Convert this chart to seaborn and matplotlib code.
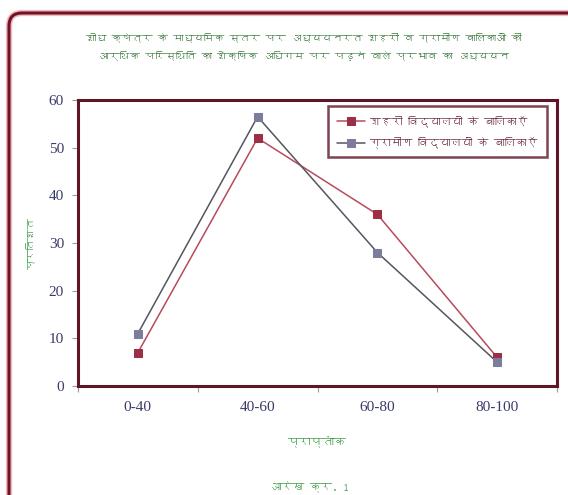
import matplotlib
matplotlib.use("Agg")
import matplotlib.pyplot as plt
from matplotlib import font_manager
from matplotlib.ft2font import FT2Font
from matplotlib.patches import FancyBboxPatch
from matplotlib.transforms import IdentityTransform
import seaborn as sns
import pandas as pd

# Data
categories = ["0-40", "40-60", "60-80", "80-100"]
urban_values = [7, 52, 36, 6]
rural_values = [11, 56.5, 28, 5]
series_names = ["शहरी विद्यालयों के बालिकाएँ", "ग्रामीण विद्यालयों के बालिकाएँ"]
title_text = ("शोध क्षेत्र के माध्यमिक स्तर पर अध्ययनरत शहरी व ग्रामीण बालिकाओं की\n"
              "आर्थिक परिस्थिति का शैक्षिक अधिगम पर पड़ने वाले प्रभाव का अध्ययन")
x_label = "प्राप्तांक"
y_label = "प्रतिशत"
caption = "आरेख क्र. 1"
y_ticks = [0, 10, 20, 30, 40, 50, 60]


def find_devanagari_font():
    seen = set()
    for f in font_manager.fontManager.ttflist:
        if f.fname in seen:
            continue
        seen.add(f.fname)
        try:
            cmap = FT2Font(f.fname).get_charmap()
        except Exception:
            continue
        if 0x0936 in cmap and 0x094D in cmap:
            return f.name
    return None


sns.set_theme(style="white")
deva = find_devanagari_font()
hindi_family = [deva, "DejaVu Sans"] if deva else ["DejaVu Sans"]
num_family = ["Liberation Serif", "DejaVu Serif"]
plt.rcParams["font.family"] = hindi_family

df = pd.DataFrame({
    "category": categories * 2,
    "value": urban_values + rural_values,
    "series": [series_names[0]] * 4 + [series_names[1]] * 4,
})

fig = plt.figure(figsize=(5.68, 4.95), dpi=100)
ax = fig.add_axes([78 / 568, 1 - 386 / 495, 479 / 568, 286 / 495])

line_colors = {series_names[0]: "#b94a5c", series_names[1]: "#55555f"}
marker_colors = ["#9a2f45", "#7c7c9c"]
sns.lineplot(data=df, x="category", y="value", hue="series", style="series",
             markers=["s", "s"], dashes=False, palette=line_colors,
             sort=False, ax=ax, linewidth=1.1, markersize=5.5, legend=True)

for line, mc in zip(ax.lines[:2], marker_colors):
    line.set_markerfacecolor(mc)
    line.set_markeredgecolor(mc)

ax.set_xlim(-0.5, 3.5)
ax.set_ylim(0, 60)
ax.set_yticks(y_ticks)
ax.set_yticklabels([str(v) for v in y_ticks], family=num_family,
                   fontsize=11, color="#3a3a6a")
ax.set_xticks(range(len(categories)))
ax.set_xticklabels(categories, family=num_family, fontsize=11, color="#3a3a6a")
ax.tick_params(axis="x", length=0, pad=11)
ax.tick_params(axis="y", length=4, width=0.8, color="#9a9a9a", pad=6, left=True)
# tick marks on category boundaries
ax.set_xticks([-0.5, 0.5, 1.5, 2.5, 3.5], minor=True)
ax.tick_params(axis="x", which="minor", length=4, width=0.8, color="#9a9a9a",
               bottom=True)

for s in ax.spines.values():
    s.set_color("#5e1626")
    s.set_linewidth(2.2)

ax.set_xlabel(x_label, color="#3f9b48", fontsize=8.5, labelpad=16)
ax.set_ylabel(y_label, color="#3f9b48", fontsize=7.5, labelpad=10)

leg = ax.legend(loc="upper right", bbox_to_anchor=(0.985, 0.99), frameon=True,
                fontsize=7.8, handlelength=2.6, borderpad=0.8, labelspacing=0.9,
                handletextpad=0.4, fancybox=False, edgecolor="#5e1626",
                borderaxespad=0.3)
leg.get_frame().set_linewidth(1.8)
for t in leg.get_texts():
    t.set_color("#6a2a3a")
for h, mc in zip(leg.legend_handles, marker_colors):
    h.set_markerfacecolor(mc)
    h.set_markeredgecolor(mc)

fig.text(304 / 568, 1 - 47 / 495, title_text, ha="center", va="center",
         color="#3d7d40", fontsize=7.4, linespacing=2.0)
fig.text(310 / 568, 1 - 487 / 495, caption, ha="center", va="center",
         color="#3f9b48", fontsize=8)

# rounded outer frame
for lw, col in [(4.5, "#f2b8c0"), (2.2, "#6e1424")]:
    frame = FancyBboxPatch((9, 495 - 513), 580, 500,
                           boxstyle="round,pad=0,rounding_size=13",
                           transform=IdentityTransform(), fill=False,
                           edgecolor=col, linewidth=lw, clip_on=False)
    fig.patches.append(frame)

fig.savefig("out.png", dpi=100)
